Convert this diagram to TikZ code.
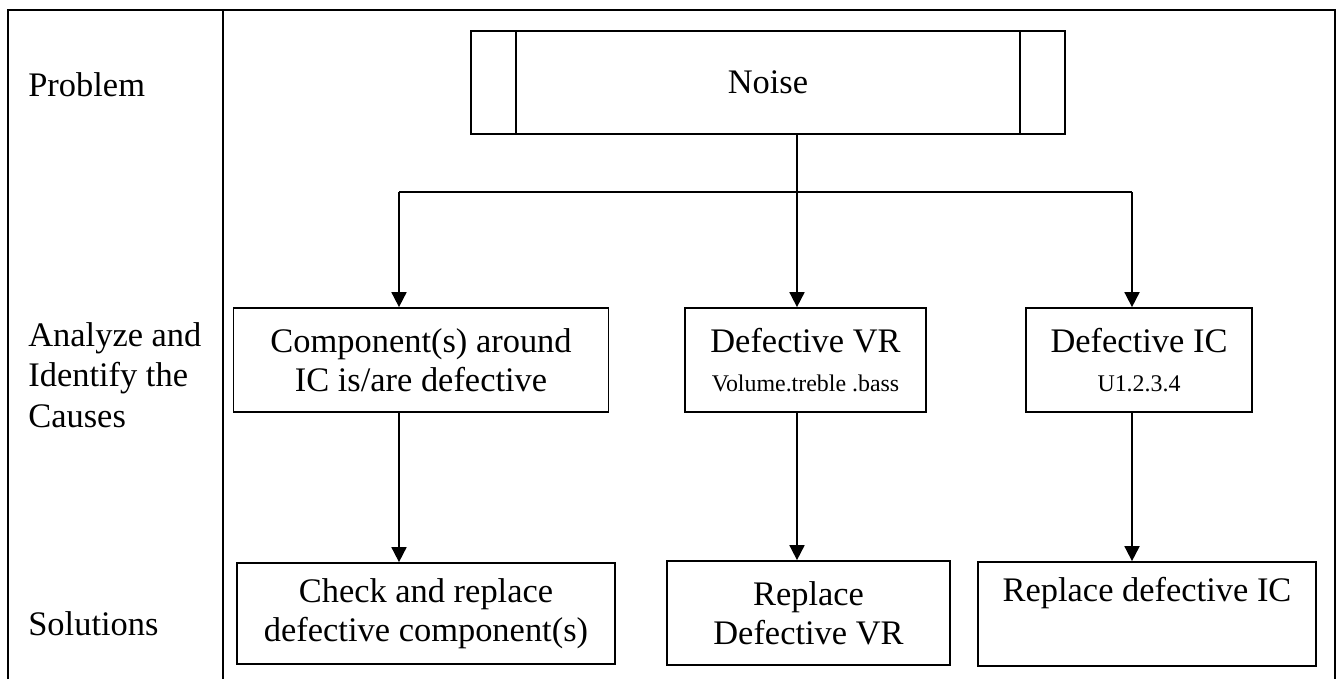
\documentclass[tikz,border=0pt]{standalone}
\usepackage{fontspec}
\setmainfont{Liberation Serif}
\usetikzlibrary{arrows.meta}
\usetikzlibrary{calc}
\usetikzlibrary{positioning}
\tikzset{block/.style={draw=black, line width=1pt, inner sep=0pt, align=center,
    font=\fontsize{19.6}{22}\selectfont}}
\tikzset{heading/.style={anchor=west, align=left, inner sep=0pt,
    font=\fontsize{19.6}{23.2}\selectfont}}
\tikzset{arrow/.style={-{Triangle[length=0.3cm,width=0.3cm]}, line width=1pt}}
\newcommand{\smalltext}[1]{{\fontsize{13.6}{15}\selectfont #1}}

\begin{document}
\begin{tikzpicture}[x=0.02cm, y=-0.02cm]
        \useasboundingbox (0,0) rectangle (1337,679);
        \draw[line width=1pt] (8,679) -- (8,10) -- (1335,10) -- (1335,679);
        \draw[line width=1pt] (223,10) -- (223,679);

        \node[heading] (prob) at (28,85) {Problem};
        \node[heading] (cause) at (28,375) {Analyze and\\Identify the\\Causes};
        \node[heading] (sol) at (28,624) {Solutions};

        \node[block, minimum width=11.88cm, minimum height=2.06cm] (noise) at (768,82.5) {Noise};
        \draw[line width=1pt] ($(noise.north west)+(46,0)$) -- ($(noise.south west)+(46,0)$);
        \draw[line width=1pt] ($(noise.north east)+(-46,0)$) -- ($(noise.south east)+(-46,0)$);

        \node[block, minimum width=7.5cm, minimum height=2.08cm] (comp) at (421,360)
            {Component(s) around\\IC is/are defective};
        \node[block, minimum width=4.82cm, minimum height=2.08cm] (vr) at (805.5,360)
            {Defective VR\\\smalltext{Volume.treble .bass}};
        \node[block, minimum width=4.52cm, minimum height=2.08cm] (ic) at (1139,360)
            {Defective IC\\\smalltext{U1.2.3.4}};

        \node[block, minimum width=7.56cm, minimum height=2.02cm] (fixcomp) at (426,613.5)
            {Check and replace\\defective component(s)};
        \node[block, minimum width=5.66cm, minimum height=2.08cm] (fixvr) at (808.5,613)
            {Replace\\Defective VR};
        \node[block, minimum width=6.76cm, minimum height=2.08cm] (fixic) at (1147,614)
            {Replace defective IC\\\strut};

        \coordinate (top) at ($(noise.south)+(29,0)$);
        \coordinate (j1) at (399,192);
        \coordinate (j2) at (797,192);
        \coordinate (j3) at (1132,192);

        \draw[line width=1pt] (top) -- (j2);
        \draw[line width=1pt] (j1) -- (j3);
        \draw[->, arrow] (j1) -- (j1 |- comp.north);
        \draw[->, arrow] (j2) -- (j2 |- vr.north);
        \draw[->, arrow] (j3) -- (j3 |- ic.north);

        \draw[->, arrow] (comp.south -| j1) -- (fixcomp.north -| j1);
        \draw[->, arrow] (vr.south -| j2) -- (fixvr.north -| j2);
        \draw[->, arrow] (ic.south -| j3) -- (fixic.north -| j3);
\end{tikzpicture}
\end{document}
